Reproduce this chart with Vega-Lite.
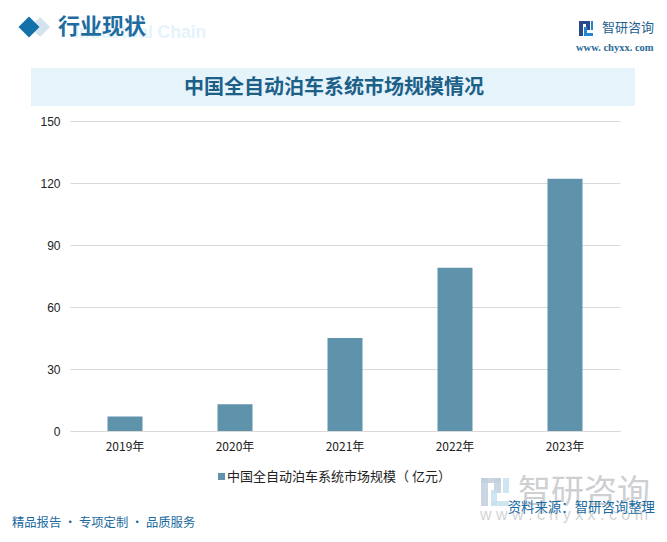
{
"$schema":"https://vega.github.io/schema/vega-lite/v6.json",
"width":550,"height":310,
"autosize":{"type":"none"},
"padding":{"left":70,"top":121,"right":47,"bottom":111},
"background":"#ffffff",
"config":{"view":{"stroke":null}},
"layer":[
{"data":{"values":[{}]},"mark":{"type":"rect","color":"#E5F3FB","x":-39,"x2":565,"y":-53,"y2":-15,"clip":false},"encoding":{}},
{"data":{"values":[{"t":"Industrial Chain"}]},"mark":{"type":"text","x":4,"y":-88,"align":"left","baseline":"middle","font":"Liberation Sans","fontWeight":"bold","fontSize":17.5,"color":"#E5F3FB"},"encoding":{"text":{"field":"t"}}},
{"data":{"values":[{}]},"mark":{"type":"point","shape":"diamond","filled":true,"size":400,"opacity":1,"color":"#D3E4EE","x":-30,"y":-94},"encoding":{}},
{"data":{"values":[{}]},"mark":{"type":"point","shape":"diamond","filled":true,"size":441,"opacity":1,"color":"#1470A8","x":-41,"y":-94},"encoding":{}},
{"data":{"values":[{"t":"行业现状"}]},"mark":{"type":"text","x":-12,"y":-94,"align":"left","baseline":"middle","font":"Noto Sans CJK SC","fontWeight":"bold","fontSize":22,"color":"#1F6D9F"},"encoding":{"text":{"field":"t"}}},
{"data":{"values":[{}]},"mark":{"type":"rule","color":"#0F6A9F","strokeWidth":1,"x":-58,"x2":485,"y":-73},"encoding":{}},
{"data":{"values":[{"t":"中国全自动泊车系统市场规模情况"}]},"mark":{"type":"text","x":264,"y":-33,"align":"center","baseline":"middle","font":"Noto Sans CJK SC","fontWeight":"bold","fontSize":20,"color":"#1C6088"},"encoding":{"text":{"field":"t"}}},
{"data":{"values":[{}]},"mark":{"type":"rect","color":"#2B4A8E","x":509,"x2":520,"y":-100,"y2":-97},"encoding":{}},
{"data":{"values":[{}]},"mark":{"type":"rect","color":"#2B4A8E","x":509,"x2":513,"y":-100,"y2":-85},"encoding":{}},
{"data":{"values":[{}]},"mark":{"type":"rect","color":"#2B4A8E","x":516,"x2":520,"y":-100,"y2":-91},"encoding":{}},
{"data":{"values":[{}]},"mark":{"type":"rect","color":"#1E88D2","x":521,"x2":523,"y":-100,"y2":-91},"encoding":{}},
{"data":{"values":[{}]},"mark":{"type":"rect","color":"#1E88D2","x":514,"x2":523,"y":-88,"y2":-85},"encoding":{}},
{"data":{"values":[{}]},"mark":{"type":"rect","color":"#1E88D2","x":514,"x2":517,"y":-94,"y2":-85},"encoding":{}},
{"data":{"values":[{"t":"智研咨询"}]},"mark":{"type":"text","x":532,"y":-93,"align":"left","baseline":"middle","font":"Noto Sans CJK SC","fontSize":13,"color":"#1F5F8F"},"encoding":{"text":{"field":"t"}}},
{"data":{"values":[{"t":"www. chyxx. com"}]},"mark":{"type":"text","x":506,"y":-73,"align":"left","baseline":"middle","font":"Liberation Serif","fontWeight":"bold","fontSize":10.5,"color":"#2A6A98"},"encoding":{"text":{"field":"t"}}},
{"data":{"values":[{"year":"2019年","v":7,"s":"中国全自动泊车系统市场规模（ 亿元）"},{"year":"2020年","v":13,"s":"中国全自动泊车系统市场规模（ 亿元）"},{"year":"2021年","v":45,"s":"中国全自动泊车系统市场规模（ 亿元）"},{"year":"2022年","v":79,"s":"中国全自动泊车系统市场规模（ 亿元）"},{"year":"2023年","v":122,"s":"中国全自动泊车系统市场规模（ 亿元）"}]},
"mark":{"type":"bar","size":35},
"encoding":{
"x":{"field":"year","type":"ordinal","title":null,"scale":{"paddingInner":0,"paddingOuter":0},"axis":{"labelAngle":0,"labelFont":"Noto Sans CJK SC","labelFontSize":12,"labelColor":"#222222","labelPadding":10,"ticks":false,"domain":true,"domainColor":"#D9D9D9"}},
"y":{"field":"v","type":"quantitative","title":null,"scale":{"domain":[0,150],"nice":false},"axis":{"values":[0,30,60,90,120,150],"labelFont":"Liberation Sans","labelFontSize":12,"labelColor":"#222222","labelPadding":10,"ticks":false,"domain":false,"grid":true,"gridColor":"#D9D9D9"}},
"color":{"field":"s","type":"nominal","scale":{"range":["#5F92AB"]},"legend":{"title":null,"orient":"none","legendX":145,"legendY":349,"symbolType":"square","symbolSize":50,"labelFont":"Noto Sans CJK SC","labelFontSize":13,"labelColor":"#222222","labelOffset":-1,"labelLimit":400,"padding":0}}
}},
{"data":{"values":[{}]},"mark":{"type":"rect","color":"#C3CFDD","opacity":0.85,"x":411,"x2":431,"y":357,"y2":362},"encoding":{}},
{"data":{"values":[{}]},"mark":{"type":"rect","color":"#C3CFDD","opacity":0.85,"x":411,"x2":418,"y":357,"y2":385},"encoding":{}},
{"data":{"values":[{}]},"mark":{"type":"rect","color":"#C3CFDD","opacity":0.85,"x":424,"x2":431,"y":357,"y2":372},"encoding":{}},
{"data":{"values":[{}]},"mark":{"type":"rect","color":"#C5E0F0","opacity":0.85,"x":433,"x2":439,"y":357,"y2":372},"encoding":{}},
{"data":{"values":[{}]},"mark":{"type":"rect","color":"#C5E0F0","opacity":0.85,"x":421,"x2":439,"y":380,"y2":385},"encoding":{}},
{"data":{"values":[{}]},"mark":{"type":"rect","color":"#C5E0F0","opacity":0.85,"x":421,"x2":427,"y":369,"y2":385},"encoding":{}},
{"data":{"values":[{"t":"智研咨询"}]},"mark":{"type":"text","x":448,"y":372,"align":"left","baseline":"middle","font":"Noto Sans CJK SC","fontSize":33,"color":"#CDCFD2"},"encoding":{"text":{"field":"t"}}},
{"data":{"values":[{"t":"w w w . c h y x x . c o m"}]},"mark":{"type":"text","x":410,"y":394,"align":"left","baseline":"middle","font":"Liberation Sans","fontSize":16,"color":"#D2D4D6"},"encoding":{"text":{"field":"t"}}},
{"data":{"values":[{}]},"mark":{"type":"rule","color":"#1A6090","strokeWidth":1,"x":-60,"x2":423,"y":386},"encoding":{}},
{"data":{"values":[{"t":"资料来源：智研咨询整理"}]},"mark":{"type":"text","x":585,"y":387,"align":"right","baseline":"middle","font":"Noto Sans CJK SC","fontSize":13.4,"color":"#1A6A9F"},"encoding":{"text":{"field":"t"}}},
{"data":{"values":[{"t":"精品报告 · 专项定制 · 品质服务"}]},"mark":{"type":"text","x":-58,"y":402,"align":"left","baseline":"middle","font":"Noto Sans CJK SC","fontSize":12.3,"color":"#1A6A9F"},"encoding":{"text":{"field":"t"}}}
]
}
